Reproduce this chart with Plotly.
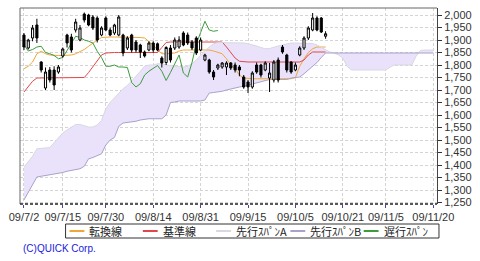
import plotly.graph_objects as go

# ---- data (trading-day index 0 = 09/7/2) ----
tick_days = [0, 9, 19, 30, 41, 52, 63, 74, 84, 95]
tick_labels = ["09/7/2", "09/7/15", "09/7/30", "09/8/14", "09/8/31",
               "09/9/15", "09/10/5", "09/10/21", "09/11/5", "09/11/20"]
legend_names = ["転換線", "基準線", "先行ｽﾊﾟﾝA", "先行ｽﾊﾟﾝB", "遅行ｽﾊﾟﾝ"]

opens = [1920, 1868, 1908, 1960, 1812, 1708, 1780, 1780, 1772, 1836,
         1920, 1912, 1940, 1900, 2004, 2000, 1992, 1988, 1920, 1988,
         1940, 1928, 1920, 1920, 1868, 1920, 1892, 1880, 1852, 1860,
         1888, 1885, 1828, 1810, 1868, 1868, 1872, 1928, 1920, 1892,
         1908, 1860, 1820, 1820, 1772, 1788, 1792, 1792, 1808, 1800,
         1792, 1752, 1732, 1712, 1800, 1800, 1780, 1748, 1740, 1820,
         1872, 1840, 1812, 1780, 1840, 1868, 1908, 1940, 1988, 1988, 1915]
highs = [1928, 1905, 1960, 1985, 1815, 1790, 1792, 1795, 1800, 1870,
         1925, 1925, 1985, 1960, 2010, 2005, 2000, 1995, 1955, 1995,
         1950, 1965, 2000, 1925, 1915, 1925, 1900, 1885, 1858, 1895,
         1895, 1890, 1835, 1875, 1880, 1910, 1915, 1935, 1930, 1900,
         1915, 1910, 1845, 1825, 1780, 1805, 1812, 1815, 1812, 1810,
         1800, 1760, 1740, 1775, 1810, 1805, 1815, 1808, 1820, 1830,
         1880, 1845, 1815, 1810, 1875, 1915, 1955, 2008, 1995, 1992, 1935]
lows = [1860, 1862, 1895, 1888, 1770, 1700, 1730, 1700, 1765, 1830,
        1870, 1850, 1930, 1895, 1970, 1955, 1940, 1890, 1915, 1935,
        1915, 1920, 1915, 1835, 1860, 1850, 1850, 1828, 1830, 1855,
        1850, 1855, 1790, 1800, 1810, 1860, 1865, 1875, 1880, 1860,
        1840, 1855, 1815, 1765, 1740, 1780, 1785, 1760, 1780, 1770,
        1755, 1705, 1688, 1705, 1765, 1750, 1775, 1692, 1730, 1730,
        1845, 1770, 1765, 1775, 1835, 1860, 1900, 1935, 1935, 1928, 1905]
closes = [1872, 1900, 1948, 1908, 1780, 1772, 1740, 1720, 1792, 1864,
          1888, 1860, 1972, 1948, 1980, 1960, 1948, 1900, 1948, 1940,
          1920, 1960, 1992, 1848, 1908, 1860, 1860, 1852, 1836, 1888,
          1860, 1860, 1808, 1870, 1820, 1900, 1900, 1880, 1888, 1868,
          1848, 1900, 1840, 1772, 1752, 1800, 1808, 1808, 1788, 1780,
          1780, 1712, 1712, 1768, 1772, 1760, 1808, 1768, 1812, 1740,
          1852, 1780, 1772, 1800, 1868, 1908, 1948, 1988, 1940, 1932, 1925]

tenkan = [1785, 1795, 1812, 1845, 1855, 1845, 1840, 1838, 1838, 1838,
          1838, 1840, 1845, 1852, 1862, 1875, 1888, 1900, 1910, 1912,
          1912, 1912, 1912, 1912, 1912, 1912, 1912, 1910, 1908, 1895,
          1880, 1860, 1845, 1845, 1845, 1848, 1856, 1860, 1860, 1860,
          1860, 1860, 1860, 1860, 1856, 1852, 1845, 1825, 1800, 1785,
          1760, 1748, 1745, 1745, 1745, 1745, 1745, 1745, 1745, 1745,
          1745, 1745, 1745, 1750, 1795, 1825, 1850, 1865, 1872, 1872, 1872]
kijun = [1692, 1715, 1735, 1748, 1748, 1748, 1748, 1748, 1748, 1748,
         1748, 1748, 1748, 1748, 1750, 1770, 1795, 1820, 1840, 1848,
         1850, 1850, 1850, 1850, 1850, 1850, 1850, 1850, 1850, 1850,
         1850, 1850, 1870, 1890, 1892, 1892, 1892, 1892, 1892, 1892,
         1892, 1892, 1892, 1892, 1892, 1892, 1892, 1872, 1850, 1828,
         1815, 1812, 1812, 1812, 1812, 1812, 1812, 1812, 1812, 1812,
         1812, 1812, 1812, 1812, 1812, 1820, 1840, 1852, 1852, 1852, 1852]
senkou_a = [1392, 1415, 1435, 1465, 1468, 1468, 1470, 1490, 1512, 1528,
            1540, 1552, 1562, 1562, 1556, 1552, 1552, 1560, 1578, 1625,
            1650, 1668, 1685, 1705, 1718, 1735, 1755, 1775, 1795, 1800,
            1800, 1805, 1805, 1800, 1798, 1796, 1795, 1792, 1795, 1805,
            1820, 1840, 1858, 1872, 1885, 1890, 1890, 1890, 1890, 1890,
            1890, 1888, 1885, 1882, 1876, 1870, 1865, 1866, 1872, 1876,
            1880, 1884, 1888, 1888, 1888, 1888, 1888, 1886, 1880, 1870,
            1860, 1852, 1848, 1840, 1828, 1795, 1780, 1780, 1780, 1780,
            1780, 1780, 1780, 1780, 1780, 1792, 1800, 1800, 1800, 1800,
            1800, 1835, 1858, 1860, 1860, 1860]
senkou_b = [1260, 1290, 1320, 1352, 1355, 1358, 1360, 1362, 1366, 1370,
            1375, 1378, 1380, 1385, 1395, 1425, 1430, 1438, 1445, 1480,
            1500, 1510, 1555, 1568, 1570, 1572, 1575, 1580, 1584, 1585,
            1585, 1585, 1585, 1600, 1650, 1652, 1656, 1656, 1656, 1656,
            1656, 1656, 1660, 1688, 1690, 1692, 1695, 1700, 1705, 1708,
            1712, 1715, 1720, 1725, 1728, 1732, 1740, 1742, 1742, 1742,
            1742, 1742, 1748, 1750, 1752, 1765, 1780, 1792, 1810, 1830,
            1848, 1848, 1848, 1848, 1848, 1848, 1848, 1848, 1848, 1848,
            1848, 1848, 1848, 1848, 1848, 1848, 1848, 1848, 1848, 1848,
            1848, 1848, 1848, 1848, 1848, 1848]
chikou = [1880, 1856, 1862, 1872, 1875, 1850, 1845, 1838, 1825, 1830,
          1858, 1885, 1915, 1910, 1900, 1895, 1888, 1855, 1830, 1795,
          1795, 1800, 1792, 1792, 1790, 1730, 1712, 1725, 1760, 1775,
          1785, 1798, 1775, 1738, 1770, 1808, 1840, 1768, 1752, 1810,
          1885, 1930, 1975, 1940, 1935, 1938]

days = list(range(len(closes)))
cloud_days = list(range(len(senkou_a)))
chikou_days = list(range(len(chikou)))

line_colors = ["#eea838", "#e04848", "#d8d8e2", "#a8a2cc", "#3c9c3c"]

X_RANGE = [-0.92, 95.86]
Y_RANGE = [1244, 2028]

fig = go.Figure()

# cloud fill
fig.add_trace(go.Scatter(x=cloud_days, y=senkou_b, mode="lines",
                         line=dict(width=0), showlegend=False, hoverinfo="skip"))
fig.add_trace(go.Scatter(x=cloud_days, y=senkou_a, mode="lines",
                         line=dict(width=0), fill="tonexty",
                         fillcolor="rgb(234,226,251)", showlegend=False,
                         hoverinfo="skip"))

series = [(days, tenkan), (days, kijun), (cloud_days, senkou_a),
          (cloud_days, senkou_b), (chikou_days, chikou)]
for (xs, ys), name, col in zip(series, legend_names, line_colors):
    fig.add_trace(go.Scatter(x=xs, y=ys, mode="lines", name=name,
                             line=dict(color=col, width=1), showlegend=False,
                             hoverinfo="skip"))

# candles on an overlaying axis so they sit above the cloud fill
fig.add_trace(go.Candlestick(
    x=days, open=opens, high=highs, low=lows, close=closes,
    xaxis="x2", yaxis="y2",
    increasing=dict(line=dict(color="black", width=1), fillcolor="white"),
    decreasing=dict(line=dict(color="black", width=1), fillcolor="black"),
    whiskerwidth=0, showlegend=False, hoverinfo="skip"))

tick_font = dict(family="Liberation Sans, Arial, sans-serif", size=11, color="#333333")

fig.update_layout(
    width=480, height=261,
    margin=dict(l=20, r=39, t=8, b=57),
    paper_bgcolor="white", plot_bgcolor="white",
    showlegend=False,
    xaxis=dict(range=X_RANGE, tickmode="array", tickvals=tick_days,
               ticktext=tick_labels, tickfont=tick_font, ticks="outside",
               ticklen=3, tickcolor="#4848a0", showgrid=True,
               gridcolor="#d4d4d4", griddash="3px,2px", gridwidth=1,
               zeroline=False, showline=False, rangeslider=dict(visible=False),
               fixedrange=True),
    yaxis=dict(range=Y_RANGE, side="right", dtick=50, tick0=0,
               tickformat=",d", tickfont=tick_font, ticks="outside", ticklen=4,
               tickcolor="#333333", showgrid=True, gridcolor="#d4d4d4",
               griddash="3px,2px", gridwidth=1, zeroline=False,
               showline=True, linecolor="#444444", linewidth=1, fixedrange=True),
    xaxis2=dict(range=X_RANGE, overlaying="x", visible=False,
                rangeslider=dict(visible=False), fixedrange=True),
    yaxis2=dict(range=Y_RANGE, overlaying="y", visible=False, fixedrange=True),
)

# plot frame: left/top solid gray, bottom dashed
fig.add_shape(type="line", xref="paper", yref="paper", x0=0, x1=0, y0=0, y1=1,
              line=dict(color="#666666", width=1))
fig.add_shape(type="line", xref="paper", yref="paper", x0=0, x1=1, y0=1, y1=1,
              line=dict(color="#666666", width=1))
fig.add_shape(type="line", xref="paper", yref="paper", x0=0, x1=1, y0=0, y1=0,
              line=dict(color="#222222", width=1.5, dash="3px,2px"))

# legend box (pixel layout converted to paper coordinates)
PLOT_L, PLOT_W, PLOT_B, PLOT_H = 20, 421, 204, 196
def px(x):
    return (x - PLOT_L) / PLOT_W
def py(y):
    return (PLOT_B - y) / PLOT_H

fig.add_shape(type="rect", xref="paper", yref="paper",
              x0=px(66), x1=px(443), y0=py(238), y1=py(224),
              line=dict(color="#333333", width=1), fillcolor="white")
item_x = [70, 144, 218, 293, 367]
for xi, name, col in zip(item_x, legend_names, line_colors):
    fig.add_shape(type="line", xref="paper", yref="paper",
                  x0=px(xi), x1=px(xi + 15), y0=py(231), y1=py(231),
                  line=dict(color=col, width=2))
    fig.add_annotation(text=name, xref="paper", yref="paper",
                       x=px(xi + 18), y=py(231), xanchor="left", yanchor="middle",
                       showarrow=False,
                       font=dict(family="Noto Sans CJK JP", size=11, color="#222222"))

fig.add_annotation(text="(C)QUICK Corp.", xref="paper", yref="paper",
                   x=px(21), y=py(248), xanchor="left", yanchor="middle",
                   showarrow=False,
                   font=dict(family="Liberation Sans, Arial, sans-serif", size=10,
                             color="#2020e0"))

fig.write_html("out.html")
